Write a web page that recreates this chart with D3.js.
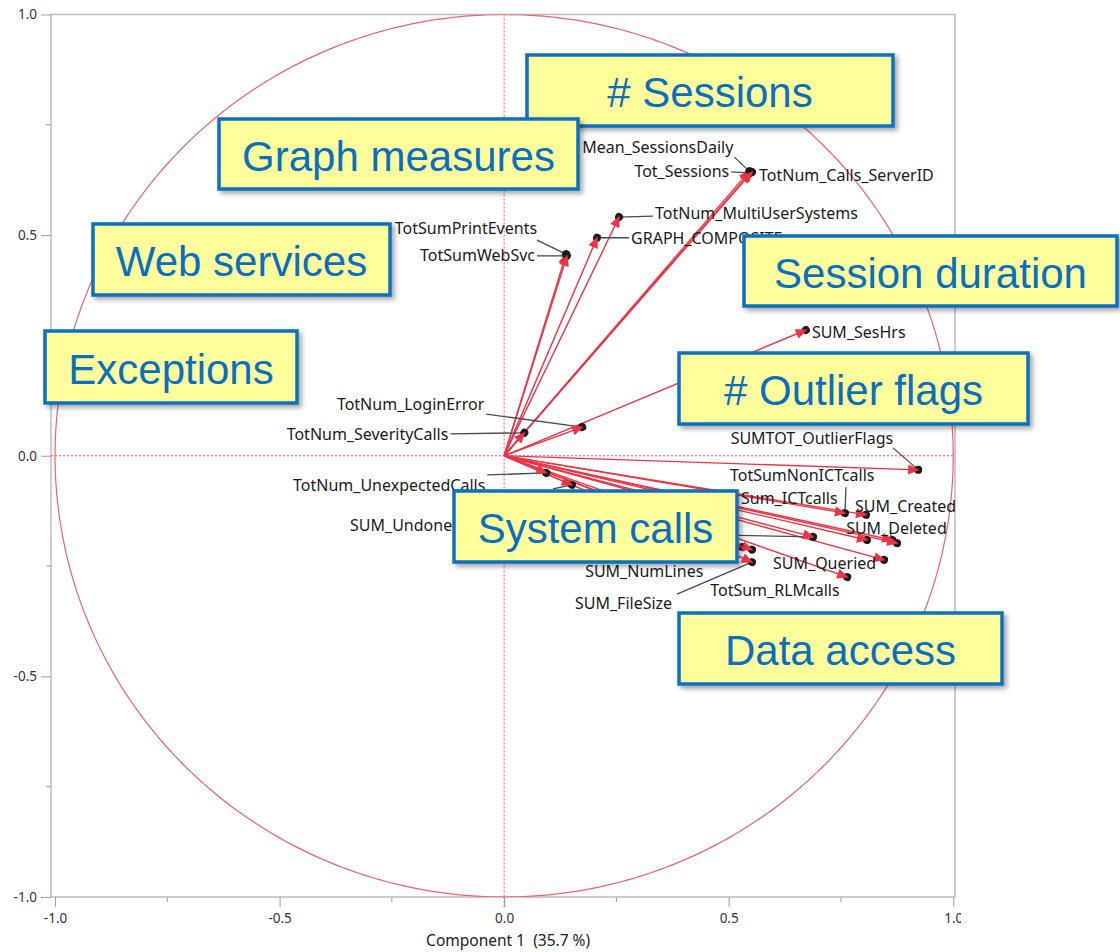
<!DOCTYPE html>
<html>
<head>
<meta charset="utf-8">
<script src="https://cdn.jsdelivr.net/npm/d3@7"></script>
<style>
  html, body { margin: 0; padding: 0; background: #fff; }
  svg { display: block; }
</style>
</head>
<body>
<svg id="chart" width="1120" height="952"></svg>
<script>
// Loading vectors: variable names and their loadings on components 1 and 2
const variables = [
  "Mean_SessionsDaily", "Tot_Sessions", "TotNum_Calls_ServerID",
  "TotNum_MultiUserSystems", "GRAPH_COMPOSITE",
  "TotSumPrintEvents", "TotSumWebSvc", "SUM_SesHrs",
  "TotNum_LoginError", "TotNum_SeverityCalls", "SUMTOT_OutlierFlags",
  "TotNum_UnexpectedCalls", "TotNum_WarningCalls", "SUM_Undone",
  "TotSumNonICTcalls", "SUM_Created", "Sum_ICTcalls", "SUM_Deleted",
  "SUM_Modified", "SUM_Queried", "TotSum_RLMcalls", "SUM_NumLines",
  "SUM_Opened", "SUM_FileSize"
];
const comp1 = [
  0.546, 0.548, 0.552,
  0.256, 0.207,
  0.138, 0.140, 0.672,
  0.174, 0.045, 0.922,
  0.094, 0.151, 0.688,
  0.759, 0.806, 0.808, 0.864,
  0.875, 0.846, 0.764, 0.530,
  0.552, 0.552
];
const comp2 = [
  0.645, 0.641, 0.643,
  0.541, 0.494,
  0.457, 0.453, 0.285,
  0.065, 0.052, -0.032,
  -0.039, -0.066, -0.184,
  -0.130, -0.134, -0.191, -0.191,
  -0.198, -0.236, -0.275, -0.207,
  -0.213, -0.241
];
const majorTicks = [-1.0, -0.5, 0.0, 0.5, 1.0];
const minorTicks = [-0.75, -0.25, 0.25, 0.75];
const xTitle = "Component 1  (35.7 %)";

// Group call-outs
const groupNames = ["# Sessions", "Graph measures", "Web services", "Session duration",
                    "Exceptions", "# Outlier flags", "System calls", "Data access"];

// Label placement: text offset from the point [dx, dy], anchor, leader start offset (or null).
// Entries with show:false sit under the "System calls" call-out, so only their leader is drawn.
const labelLayout = {
  "Mean_SessionsDaily":      { dx: -16,  dy: -24, anchor: "end",   lead: [-15, -14] },
  "Tot_Sessions":            { dx: -21,  dy: -2,  anchor: "end",   lead: [-19, -1] },
  "TotNum_Calls_ServerID":   { dx: 7,    dy: 3,   anchor: "start", lead: null },
  "TotNum_MultiUserSystems": { dx: 36,   dy: -4,  anchor: "start", lead: [34, -1] },
  "GRAPH_COMPOSITE":         { dx: 34,   dy: 0,   anchor: "start", lead: [32, 0] },
  "TotSumPrintEvents":       { dx: -29,  dy: -26, anchor: "end",   lead: [-29, -14] },
  "TotSumWebSvc":            { dx: -32,  dy: -1,  anchor: "end",   lead: [-30, 0] },
  "SUM_SesHrs":              { dx: 6,    dy: 2,   anchor: "start", lead: null },
  "TotNum_LoginError":       { dx: -98,  dy: -23, anchor: "end",   lead: [-96, -13] },
  "TotNum_SeverityCalls":    { dx: -76,  dy: 1,   anchor: "end",   lead: [-74, 1] },
  "SUMTOT_OutlierFlags":     { dx: -25,  dy: -32, anchor: "end",   lead: [-25, -22] },
  "TotNum_UnexpectedCalls":  { dx: -61,  dy: 12,  anchor: "end",   lead: [-59, 2] },
  "TotNum_WarningCalls":     { dx: 0,    dy: 0,   anchor: "start", lead: [-19, 4], show: false },
  "SUM_Undone":              { dx: -463, dy: -12, anchor: "start", lead: [-353, -7] },
  "TotSumNonICTcalls":       { dx: -115, dy: -38, anchor: "start", lead: [1, -26] },
  "SUM_Created":             { dx: -11,  dy: -9,  anchor: "start", lead: null },
  "Sum_ICTcalls":            { dx: -126, dy: -42, anchor: "start", lead: null },
  "SUM_Deleted":             { dx: -46,  dy: -12, anchor: "start", lead: [-2, -9] },
  "SUM_Modified":            { dx: 0,    dy: 0,   anchor: "start", lead: null, show: false },
  "SUM_Queried":             { dx: -111, dy: 3,   anchor: "start", lead: null },
  "TotSum_RLMcalls":         { dx: -137, dy: 13,  anchor: "start", lead: null },
  "SUM_NumLines":            { dx: -157, dy: 24,  anchor: "start", lead: null },
  "SUM_Opened":              { dx: 0,    dy: 0,   anchor: "start", lead: null, show: false },
  "SUM_FileSize":            { dx: -177, dy: 41,  anchor: "start", lead: [-75, 32] }
};

// Call-out box geometry (pixels)
const groupBoxes = {
  "# Sessions":       { x: 527, y: 55,  w: 366, h: 71 },
  "Graph measures":   { x: 219, y: 119, w: 359, h: 70 },
  "Web services":     { x: 93,  y: 224, w: 297, h: 71 },
  "Session duration": { x: 744, y: 236, w: 373, h: 70 },
  "Exceptions":       { x: 45,  y: 331, w: 252, h: 72 },
  "# Outlier flags":  { x: 679, y: 353, w: 349, h: 71 },
  "System calls":     { x: 454, y: 491, w: 283, h: 71 },
  "Data access":      { x: 679, y: 613, w: 323, h: 71 }
};

const data = variables.map((name, i) => ({ name, x: comp1[i], y: comp2[i] }));

const svg = d3.select("#chart");
const plot = { left: 51, right: 955, top: 14.5, bottom: 897 };

const x = d3.scaleLinear().domain([-1.009, 1.004]).range([plot.left, plot.right]);
const y = d3.scaleLinear().domain([-1, 1]).range([plot.bottom, plot.top]);

const defs = svg.append("defs");
defs.append("clipPath").attr("id", "plotClip")
  .append("rect")
  .attr("x", plot.left).attr("y", plot.top)
  .attr("width", plot.right - plot.left).attr("height", plot.bottom - plot.top);
defs.append("clipPath").attr("id", "imageClip")
  .append("rect").attr("x", 0).attr("y", 0).attr("width", 961).attr("height", 952);

const shadow = defs.append("filter").attr("id", "boxShadow")
  .attr("x", "-10%").attr("y", "-20%").attr("width", "130%").attr("height", "160%");
shadow.append("feDropShadow")
  .attr("dx", 3).attr("dy", 3).attr("stdDeviation", 2.5)
  .attr("flood-color", "#000").attr("flood-opacity", 0.35);

const chart = svg.append("g").attr("clip-path", "url(#imageClip)");
const labelFont = "'Segoe UI', 'Noto Sans', sans-serif";
const fmt = d => d.toFixed(1);

// Frame
chart.append("rect")
  .attr("x", plot.left).attr("y", plot.top)
  .attr("width", plot.right - plot.left).attr("height", plot.bottom - plot.top)
  .attr("fill", "none").attr("stroke", "#bdbdbd").attr("stroke-width", 1.5);

// Axes
const xAxis = d3.axisBottom(x).tickValues(majorTicks).tickFormat(fmt)
  .tickSize(10).tickSizeOuter(0);
const yAxis = d3.axisLeft(y).tickValues(majorTicks).tickFormat(fmt)
  .tickSize(10).tickSizeOuter(0);

function styleAxis(g) {
  g.select(".domain").remove();
  g.selectAll(".tick line").attr("stroke", "#9e9e9e").attr("stroke-width", 1);
  g.selectAll(".tick text").attr("fill", "#333").attr("font-size", 13.5)
    .attr("font-family", labelFont);
}
chart.append("g").attr("transform", `translate(0,${plot.bottom})`).call(xAxis).call(styleAxis)
  .selectAll(".tick text").attr("dy", "0.95em");
chart.append("g").attr("transform", `translate(${plot.left},0)`).call(yAxis).call(styleAxis)
  .selectAll(".tick text").attr("dx", "-1px");

// Minor ticks
chart.append("g").selectAll("line").data(minorTicks).join("line")
  .attr("x1", d => x(d)).attr("x2", d => x(d))
  .attr("y1", plot.bottom).attr("y2", plot.bottom + 5)
  .attr("stroke", "#9e9e9e");
chart.append("g").selectAll("line").data(minorTicks).join("line")
  .attr("y1", d => y(d)).attr("y2", d => y(d))
  .attr("x1", plot.left).attr("x2", plot.left - 5)
  .attr("stroke", "#9e9e9e");

chart.append("text")
  .attr("x", x(0) + 4).attr("y", 946)
  .attr("text-anchor", "middle")
  .attr("font-family", labelFont).attr("font-size", 15.5).attr("fill", "#222")
  .attr("xml:space", "preserve")
  .text(xTitle);

const inner = chart.append("g").attr("clip-path", "url(#plotClip)");
const red = "#ee3344";

// Unit circle
const circleGen = d3.line().x(t => x(Math.cos(t))).y(t => y(Math.sin(t)));
inner.append("path")
  .datum(d3.range(0, 2 * Math.PI + 0.01, Math.PI / 180))
  .attr("d", circleGen)
  .attr("fill", "none").attr("stroke", "#f06070").attr("stroke-width", 1.2);

// Reference lines at zero
inner.append("line")
  .attr("x1", x(0)).attr("x2", x(0)).attr("y1", plot.top).attr("y2", plot.bottom + 12)
  .attr("stroke", "#f05060").attr("stroke-width", 1).attr("stroke-dasharray", "2,2");
inner.append("line")
  .attr("x1", plot.left).attr("x2", plot.right).attr("y1", y(0)).attr("y2", y(0))
  .attr("stroke", "#f05060").attr("stroke-width", 1).attr("stroke-dasharray", "2,2");
chart.append("line")
  .attr("x1", x(0)).attr("x2", x(0)).attr("y1", plot.bottom).attr("y2", plot.bottom + 12)
  .attr("stroke", "#f05060").attr("stroke-width", 1).attr("stroke-dasharray", "2,2");

// Vectors
inner.append("g").selectAll("line").data(data).join("line")
  .attr("x1", x(0)).attr("y1", y(0))
  .attr("x2", d => x(d.x)).attr("y2", d => y(d.y))
  .attr("stroke", red).attr("stroke-width", 1.4);

// Leader lines
inner.append("g").selectAll("line").data(data.filter(d => labelLayout[d.name].lead)).join("line")
  .attr("x1", d => x(d.x) + labelLayout[d.name].lead[0])
  .attr("y1", d => y(d.y) + labelLayout[d.name].lead[1])
  .attr("x2", d => x(d.x)).attr("y2", d => y(d.y))
  .attr("stroke", "#4a4a4a").attr("stroke-width", 1.3);

// Point markers: dark dot with a red arrow head
const markers = inner.append("g").selectAll("g").data(data).join("g")
  .attr("transform", d => {
    const px = x(d.x), py = y(d.y);
    const ang = Math.atan2(py - y(0), px - x(0)) * 180 / Math.PI;
    return `translate(${px},${py}) rotate(${ang})`;
  });
markers.append("circle").attr("r", 4).attr("cx", 0).attr("cy", 0).attr("fill", "#1a1a1a");
markers.append("path").attr("d", "M1.5,0 L-10,-5 L-10,5 Z").attr("fill", red);

// Labels
inner.append("g").selectAll("text")
  .data(data.filter(d => labelLayout[d.name].show !== false)).join("text")
  .attr("x", d => x(d.x) + labelLayout[d.name].dx)
  .attr("y", d => y(d.y) + labelLayout[d.name].dy)
  .attr("text-anchor", d => labelLayout[d.name].anchor)
  .attr("dominant-baseline", "central")
  .attr("font-family", labelFont).attr("font-size", 16).attr("fill", "#1a1a1a")
  .text(d => d.name);

// Group call-outs on top
const boxes = svg.append("g").selectAll("g").data(groupNames).join("g")
  .attr("transform", d => `translate(${groupBoxes[d].x},${groupBoxes[d].y})`);
boxes.append("rect")
  .attr("width", d => groupBoxes[d].w).attr("height", d => groupBoxes[d].h)
  .attr("fill", "#ffff9c").attr("stroke", "#0a6fc0").attr("stroke-width", 3.5)
  .attr("filter", "url(#boxShadow)");
boxes.append("text")
  .attr("x", d => groupBoxes[d].w / 2).attr("y", d => groupBoxes[d].h / 2 + 2)
  .attr("text-anchor", "middle").attr("dominant-baseline", "central")
  .attr("font-family", "'Liberation Sans', Arial, sans-serif").attr("font-size", 42)
  .attr("fill", "#0a6fc0")
  .text(d => d);
</script>
</body>
</html>
